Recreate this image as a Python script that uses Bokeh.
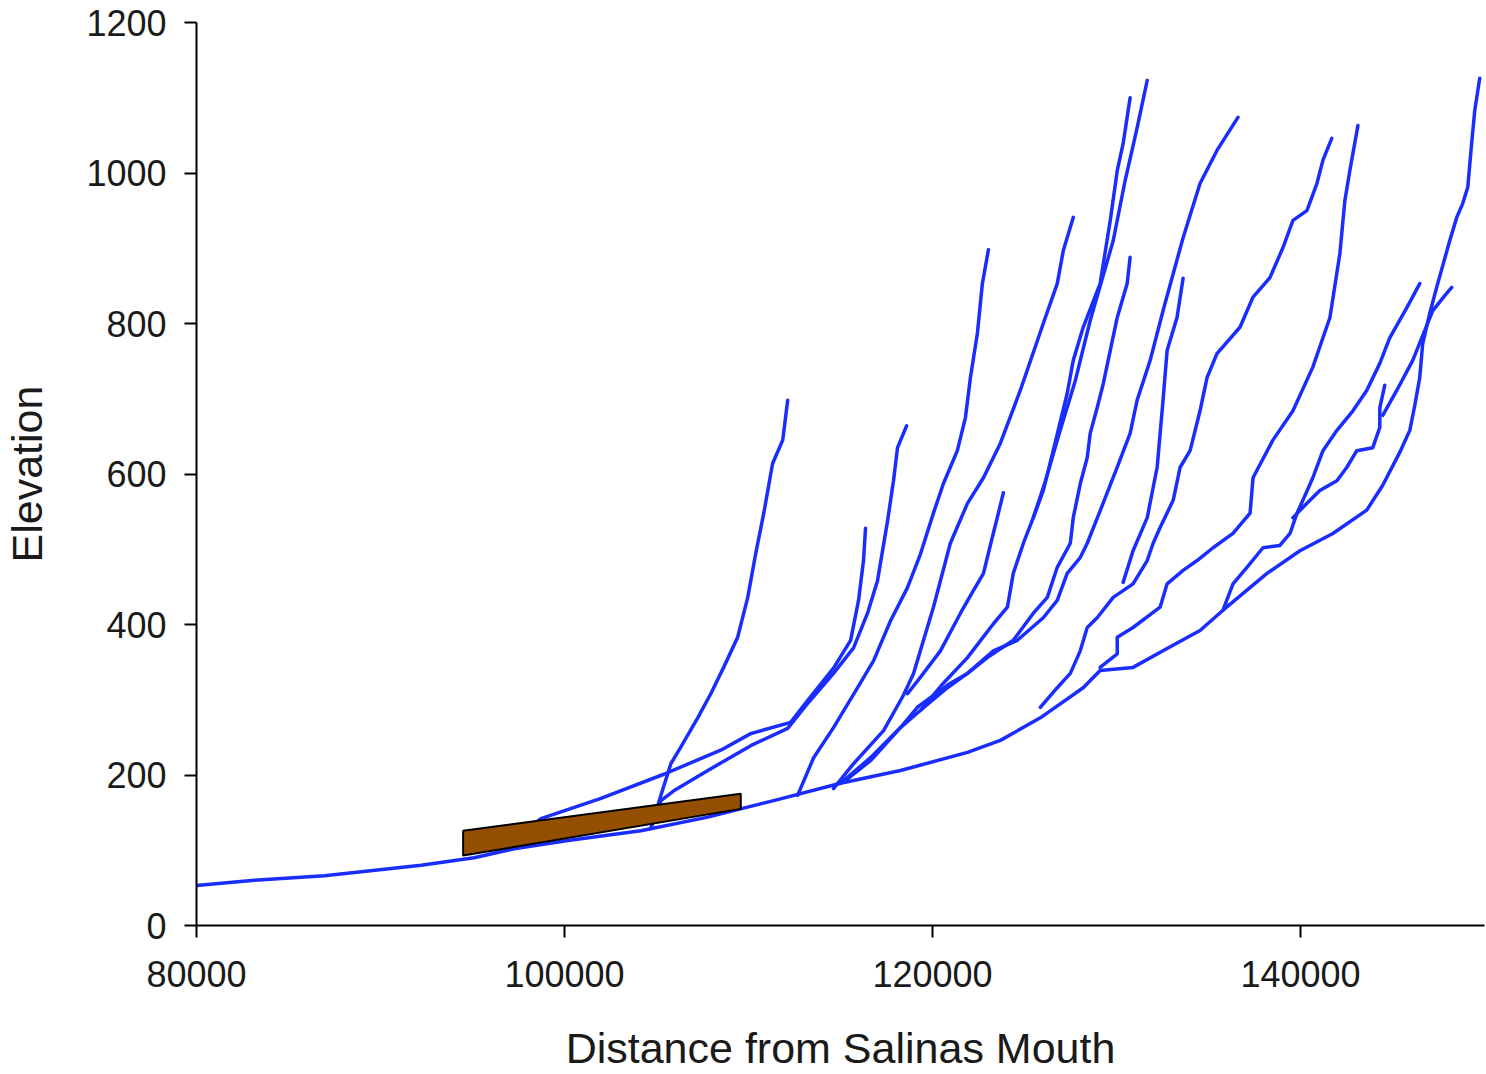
from bokeh.plotting import figure
from bokeh.models import Range1d, FixedTicker, NumeralTickFormatter
from bokeh.embed import file_html
from bokeh.resources import INLINE

# ---- axis ticks ----
x_ticks = [80000, 100000, 120000, 140000]
y_ticks = [0, 200, 400, 600, 800, 1000, 1200]

# ---- main stem ----
main_x = [80000, 83150, 86950, 92210, 95090, 97260, 100190, 104150, 107790, 111370,
          115000, 118260, 121900, 123690, 125860, 128190, 129110, 130900, 132750, 134540,
          135790, 138180, 139970, 141760, 143600, 144470, 145400, 145940, 146210, 146480,
          146640, 147020, 147400, 148110, 148490, 148810, 149090, 149300, 149470, 149740]
main_y = [53, 60, 66, 80, 90, 102, 113, 126, 144, 166,
          189, 206, 230, 246, 276, 316, 339, 343, 368, 392,
          419, 468, 498, 521, 552, 585, 629, 658, 691, 728,
          773, 813, 848, 910, 941, 959, 981, 1039, 1083, 1126]

# ---- tributaries ----
t1_x = [104690, 105240, 105780, 106320, 107240, 107950, 108650, 109410, 109960, 110390, 110830, 111310, 111860, 112130]
t1_y = [129, 173, 215, 237, 276, 308, 343, 383, 436, 494, 548, 614, 645, 698]

t2_x = [96550, 98720, 101980, 105400, 108490, 110120, 112290, 113210, 114620, 115550, 115980, 116250, 116360]
t2_y = [100, 142, 169, 201, 233, 255, 270, 299, 342, 379, 432, 485, 528]

t3_x = [104690, 105240, 105940, 107790, 110120, 112130, 113210, 114620, 115710, 116470, 117010, 117560, 117880, 118100, 118590]
t3_y = [129, 166, 179, 206, 239, 262, 295, 335, 369, 415, 458, 538, 591, 635, 664]

t4_x = [112670, 113540, 114620, 115930, 116800, 117720, 118640, 119350, 120050, 120590, 121350, 121790, 122060, 122440, 122710, 123040]
t4_y = [173, 223, 263, 316, 352, 405, 449, 494, 548, 587, 631, 675, 728, 787, 853, 898]

t5_x = [118640, 119350, 120430, 121520, 122220, 122770, 123140, 123520, 123850]
t5_y = [308, 330, 365, 415, 445, 468, 505, 542, 575]

t6_x = [114620, 115710, 117340, 118420, 118970, 119510, 120050, 120970, 121900, 122770, 123690, 124770, 126020, 126780, 127110, 127650]
t6_y = [182, 215, 259, 306, 335, 379, 423, 508, 561, 595, 641, 711, 800, 853, 897, 941]

t7_x = [119350, 120810, 121900, 122980, 124390, 125480, 126240, 126780, 127490, 127650, 128030, 128410, 128570, 128950, 129280, 129660, 130040, 130580, 130740]
t7_y = [286, 316, 335, 356, 379, 415, 436, 476, 508, 542, 587, 622, 654, 688, 720, 764, 808, 853, 888]

t8_x = [115000, 116630, 118260, 119350, 120590, 121900, 123310, 124070, 124390, 124940, 125480, 126020, 126560, 127320, 127650, 128190, 129110, 129660, 130040, 130360, 130740]
t8_y = [189, 223, 263, 286, 322, 356, 401, 423, 468, 508, 542, 578, 631, 707, 751, 795, 853, 937, 1003, 1039, 1100]

t9_x = [125480, 126130, 126940, 127760, 128570, 129280, 129820, 130470, 131120, 131670]
t9_y = [542, 590, 658, 724, 804, 864, 910, 990, 1060, 1123]

t10_x = [130360, 130900, 131670, 132210, 132530, 132750, 133290, 133620]
t10_y = [456, 498, 542, 609, 698, 764, 808, 860]

t11_x = [115280, 116630, 118260, 119180, 120970, 121900, 123310, 124610, 126020, 126780, 127320, 128030, 128410, 129110, 130040, 130740, 131120, 131830, 132530, 133080, 133620, 134540, 135460, 136600]
t11_y = [193, 219, 263, 290, 322, 335, 365, 379, 409, 432, 468, 489, 508, 551, 609, 654, 698, 751, 817, 866, 914, 986, 1030, 1074]

t12_x = [125860, 126780, 127490, 128030, 128410, 128950, 129820, 130900, 131670, 131990, 132370, 133080, 133460, 134000, 134540, 134920, 135460, 136710, 137420, 138340, 139050, 139590, 140350, 140890, 141220, 141700]
t12_y = [290, 316, 335, 365, 396, 409, 436, 454, 485, 508, 529, 565, 609, 631, 684, 728, 760, 795, 835, 861, 901, 937, 950, 986, 1017, 1046]

t13_x = [129110, 130040, 130040, 130900, 132370, 132750, 133620, 134380, 135250, 136330, 137260, 137420, 138500, 139590, 140670, 141600, 142140, 142410, 142680, 143120]
t13_y = [343, 361, 383, 396, 423, 454, 472, 485, 502, 521, 548, 595, 645, 684, 742, 808, 893, 963, 1003, 1063]

t14_x = [135790, 136330, 137090, 137960, 138880, 139430, 139810, 140130, 140670, 141220, 141980, 142850, 143600, 144310, 144850, 145780, 146480]
t14_y = [419, 454, 476, 502, 505, 521, 548, 565, 595, 631, 658, 684, 711, 747, 781, 821, 853]

t15_x = [144470, 145230, 146100, 146640, 147190, 147840, 148220]
t15_y = [678, 711, 751, 784, 817, 837, 848]

t17_x = [139590, 140350, 141050, 141980, 142520, 143060, 143930, 144310, 144310, 144580]
t17_y = [542, 561, 578, 591, 609, 631, 635, 662, 688, 718]

# ---- brown bar (reach marker) ----
bar_x = [94490, 109580, 109580, 94490]
bar_y = [126, 175, 155, 93]

series = [
    (main_x, main_y), (t1_x, t1_y), (t2_x, t2_y), (t3_x, t3_y), (t4_x, t4_y),
    (t5_x, t5_y), (t6_x, t6_y), (t7_x, t7_y), (t8_x, t8_y), (t9_x, t9_y),
    (t10_x, t10_y), (t11_x, t11_y), (t12_x, t12_y), (t13_x, t13_y),
    (t14_x, t14_y), (t15_x, t15_y), (t17_x, t17_y),
]

BLUE = "#1a2dff"
FONT = "Liberation Sans"
TXT = "#1a1a1a"

p = figure(width=1486, height=1074,
           x_range=Range1d(80000, 150000), y_range=Range1d(0, 1200),
           output_backend="svg", toolbar_location=None,
           min_border_left=195, min_border_right=2,
           min_border_top=22, min_border_bottom=149)
p.outline_line_color = None
p.grid.visible = False
p.background_fill_color = "white"
p.border_fill_color = "white"

for xs, ys in series:
    p.line(xs, ys, line_color=BLUE, line_width=3.5, line_join="round", line_cap="round")

p.patch(bar_x, bar_y, fill_color="#945000", line_color="black", line_width=2)

for ax in (p.xaxis[0], p.yaxis[0]):
    ax.axis_line_width = 2
    ax.axis_line_color = "black"
    ax.major_tick_line_width = 2
    ax.major_tick_line_color = "black"
    ax.major_tick_out = 12
    ax.major_tick_in = 0
    ax.minor_tick_line_color = None
    ax.major_label_text_font = FONT
    ax.major_label_text_font_size = "36px"
    ax.major_label_text_color = TXT
    ax.axis_label_text_font = FONT
    ax.axis_label_text_font_size = "43px"
    ax.axis_label_text_font_style = "normal"
    ax.axis_label_text_color = TXT

xa = p.xaxis[0]
xa.ticker = FixedTicker(ticks=x_ticks)
xa.formatter = NumeralTickFormatter(format="0")
xa.axis_label = "Distance from Salinas Mouth"
xa.major_label_standoff = 23
xa.axis_label_standoff = 34

ya = p.yaxis[0]
ya.ticker = FixedTicker(ticks=y_ticks)
ya.formatter = NumeralTickFormatter(format="0")
ya.axis_label = "Elevation"
ya.major_label_standoff = 18
ya.axis_label_standoff = 32

open("out.html", "w").write(file_html(p, INLINE))
